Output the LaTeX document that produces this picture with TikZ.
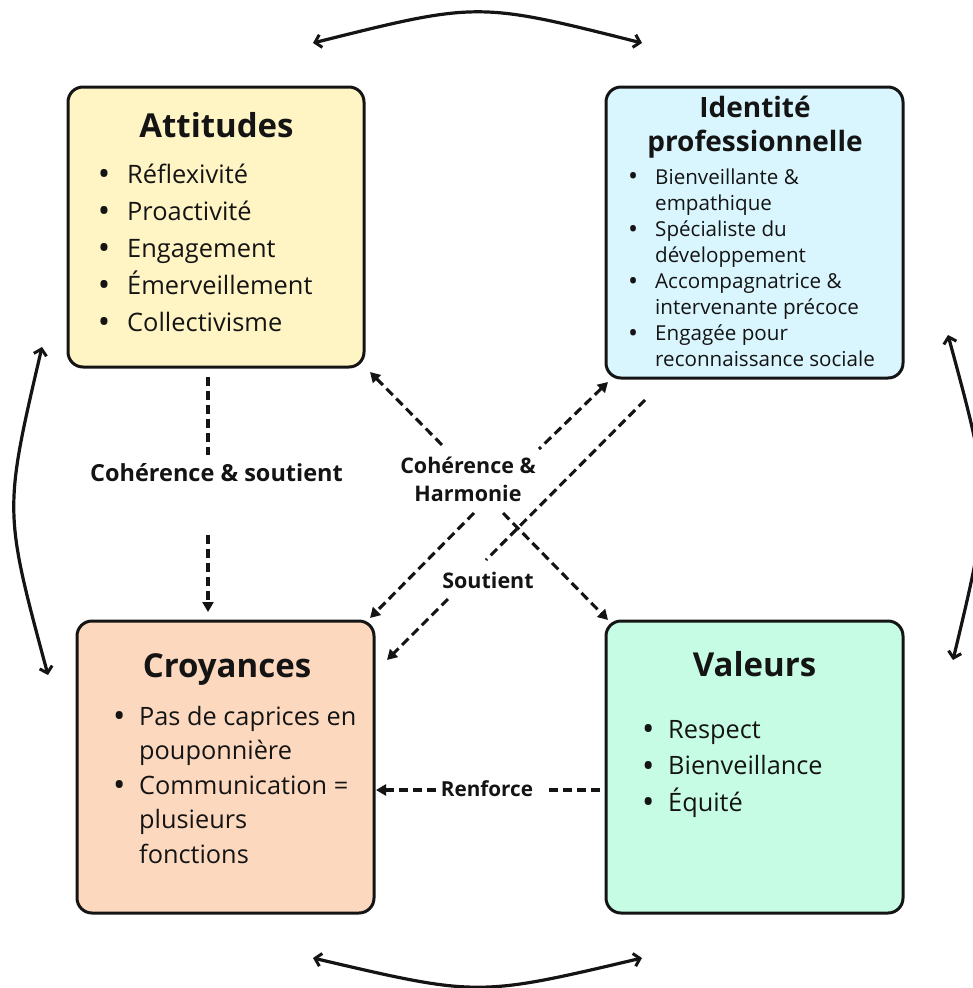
\documentclass[tikz,border=0pt]{standalone}
\usepackage{fontspec}
\setmainfont{Open Sans}
\usetikzlibrary{arrows.meta}
\definecolor{inkc}{RGB}{20,20,20}
\definecolor{attfill}{RGB}{255,245,196}
\definecolor{idfill}{RGB}{217,246,255}
\definecolor{crofill}{RGB}{252,217,190}
\definecolor{valfill}{RGB}{198,252,228}
\newcommand\itembul[1]{\makebox[0pt]{\raisebox{-0.09em}{\scalebox{1.3}{\textbullet}}}\hspace{#1pt}}
\newcommand\itemcont[1]{\hspace*{#1pt}}
\tikzset{
  box/.style={draw=inkc, line width=3pt, rounded corners=15pt, inner sep=0pt},
  boxtitle/.style={font=\fontsize{33}{36}\selectfont\bfseries, text=inkc, inner sep=0pt},
  itemlist/.style={text=inkc, inner sep=0pt, align=left},
  linklabel/.style={font=\fontsize{21.5}{28.5}\selectfont\bfseries, text=inkc, inner sep=0pt, align=center},
  dashlink/.style={draw=inkc, line width=3.1pt, dash pattern=on 9pt off 5pt},
  dasharrow/.style={dashlink, -{Triangle[length=10pt,width=11pt]}},
  dashtail/.style={dashlink, {Triangle[length=10pt,width=11pt]}-},
  cycle/.style={draw=inkc, line width=3.2pt, {Straight Barb[length=6pt,width=13pt,line width=3pt]}-{Straight Barb[length=6pt,width=13pt,line width=3pt]}}
}
\begin{document}
\begin{tikzpicture}[x=1pt,y=-1pt]
\useasboundingbox (0,0) rectangle (973,988);

% the four boxes
\node[box, fill=attfill, minimum width=296pt, minimum height=280pt] (att) at (216,227) {};
\node[box, fill=idfill,  minimum width=297pt, minimum height=291pt] (idp) at (754.5,232.5) {};
\node[box, fill=crofill, minimum width=297pt, minimum height=292pt] (cro) at (225.5,767) {};
\node[box, fill=valfill, minimum width=297pt, minimum height=292pt] (val) at (754.5,767) {};

% titles
\node[boxtitle, anchor=base] (attT) at (216.5,137) {Attitudes};
\node[boxtitle, font=\fontsize{28}{34}\selectfont\bfseries, anchor=base] (idpT1) at (755,117.7) {Identité};
\node[boxtitle, font=\fontsize{28}{34}\selectfont\bfseries, anchor=base] (idpT2) at (755,151.7) {professionnelle};
\node[boxtitle, anchor=base] (croT) at (227,677) {Croyances};
\node[boxtitle, anchor=base] (valT) at (754.5,676) {Valeurs};

% item lists
\node[itemlist, font=\fontsize{25.4}{37}\selectfont, anchor=base west] (attL) at (104,183)
  {\begin{tabular}[t]{@{}l@{}}
   \itembul{23}Réflexivité\\
   \itembul{23}Proactivité\\
   \itembul{23}Engagement\\
   \itembul{23}Émerveillement\\
   \itembul{23}Collectivisme
   \end{tabular}};
\node[itemlist, font=\fontsize{20.6}{26.1}\selectfont, anchor=base west] (idpL) at (633,184)
  {\begin{tabular}[t]{@{}l@{}}
   \itembul{22}Bienveillante \&\\
   \itemcont{22}empathique\\
   \itembul{22}Spécialiste du\\
   \itemcont{22}développement\\
   \itembul{22}Accompagnatrice \&\\
   \itemcont{22}intervenante précoce\\
   \itembul{22}Engagée pour\\
   \itemcont{22}reconnaissance sociale
   \end{tabular}};
\node[itemlist, font=\fontsize{25.3}{34.5}\selectfont, anchor=base west] (croL) at (119,725)
  {\begin{tabular}[t]{@{}l@{}}
   \itembul{20}Pas de caprices en\\
   \itemcont{20}pouponnière\\
   \itembul{20}Communication =\\
   \itemcont{20}plusieurs\\
   \itemcont{20}fonctions
   \end{tabular}};
\node[itemlist, font=\fontsize{25.3}{36.8}\selectfont, anchor=base west] (valL) at (648,738)
  {\begin{tabular}[t]{@{}l@{}}
   \itembul{20}Respect\\
   \itembul{20}Bienveillance\\
   \itembul{20}Équité
   \end{tabular}};

% link labels
\node[linklabel, font=\fontsize{23.5}{28.5}\selectfont\bfseries, anchor=base] (lblA) at (216.5,481) {Cohérence \& soutient};
\node[linklabel, anchor=base] (lblH1) at (468,473) {Cohérence \&};
\node[linklabel, anchor=base] (lblH2) at (468,501.7) {Harmonie};
\node[linklabel, anchor=base] (lblS) at (488,588) {Soutient};
\node[linklabel, font=\fontsize{20.7}{28.5}\selectfont\bfseries, anchor=base] (lblR) at (487,796) {Renforce};

% connector end points
\coordinate (a1) at (208,377);  \coordinate (a2) at (208,455);
\coordinate (a3) at (208,535);  \coordinate (a4) at (208,612);
\coordinate (h1) at (370,372);  \coordinate (h2) at (443,446);
\coordinate (h3) at (503,513);  \coordinate (h4) at (608,620);
\coordinate (k1) at (608,382);  \coordinate (k2) at (539,449);
\coordinate (k3) at (474,513);  \coordinate (k4) at (370,618);
\coordinate (s1) at (645,400);  \coordinate (s2) at (486,560);
\coordinate (s3) at (448,599);  \coordinate (s4) at (387,660);
\coordinate (r1) at (600,790);  \coordinate (r2) at (548,790);
\coordinate (r3) at (436,790);  \coordinate (r4) at (376,790);

% Attitudes -> Croyances
\draw[dashlink] (a1) -- (a2);
\draw[dasharrow] (a3) -- (a4);
% Attitudes <-> Valeurs
\draw[dashtail] (h1) -- (h2);
\draw[dasharrow] (h3) -- (h4);
% Identite <-> Croyances
\draw[dashtail] (k1) -- (k2);
\draw[dasharrow] (k3) -- (k4);
% Identite -> Croyances (soutient)
\draw[dashlink] (s1) -- (s2);
\draw[dasharrow] (s3) -- (s4);
% Valeurs -> Croyances (renforce)
\draw[dashlink] (r1) -- (r2);
\draw[dasharrow] (r3) -- (r4);

% cycle arrows around the boxes
\coordinate (t1) at (313,43);  \coordinate (t2) at (642,43);
\coordinate (b1) at (313,958); \coordinate (b2) at (642,958);
\coordinate (l1) at (42,347);  \coordinate (l2) at (48,675);
\coordinate (g1) at (948,335); \coordinate (g2) at (953,660);
\draw[cycle] (t1) .. controls (478,1.7) .. (t2);
\draw[cycle] (b1) .. controls (478,996.7) .. (b2);
\draw[cycle] (l1) .. controls (3.7,511) .. (l2);
\draw[cycle] (g1) .. controls (992,497) .. (g2);
\end{tikzpicture}
\end{document}
